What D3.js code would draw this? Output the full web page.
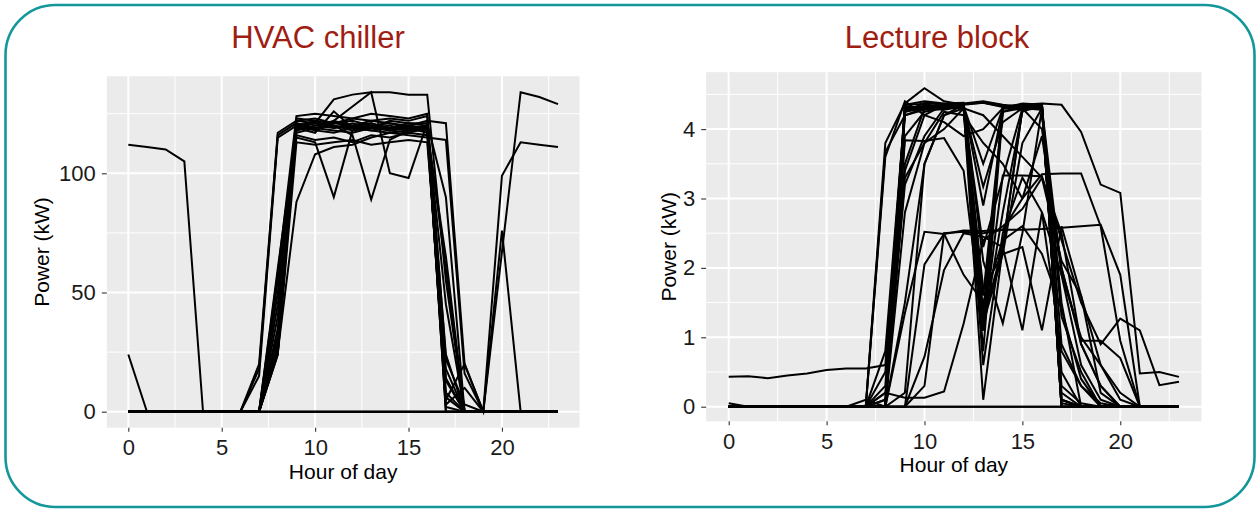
<!DOCTYPE html>
<html lang="en">
<head>
    <meta charset="UTF-8">
    <title>HVAC chiller / Lecture block</title>
    <script src="https://d3js.org/d3.v7.min.js"></script>
    <style>
        body {
            margin: 0;
            background: #fff;
        }
        svg text {
            font-family: "Liberation Sans", Arial, sans-serif;
        }
    </style>
</head>
<body>
    <svg id="chart" width="1258" height="512"></svg>

    <script>
        // hour of day, shared by both panels
        const hours = [0,1,2,3,4,5,6,7,8,9,10,11,12,13,14,15,16,17,18,19,20,21,22,23];
        const xTicks = [0, 5, 10, 15, 20];

        // HVAC chiller, kW, one array per day
        const chillerDays = [
            [112,111,110,105,0,0,0,0,0,0,0,0,0,0,0,0,0,0,0,0,0,0,0,0],
            [24,0,0,0,0,0,0,0,30,118,120,119,121,119,118,120,119,60,0,0,0,0,0,0],
            [0,0,0,0,0,0,0,20,117,122,121,120,119,120,121,119,120,24,0,0,0,0,0,0],
            [0,0,0,0,0,0,0,15,115,120,118,122,120,118,119,120,118,13,0,0,0,0,0,0],
            [0,0,0,0,0,0,0,0,40,120,121,131,133,134,134,133,133,55,0,0,0,0,0,0],
            [0,0,0,0,0,0,0,0,25,88,108,111,112,115,117,118,118,5,20,0,0,0,0,0],
            [0,0,0,0,0,0,0,0,55,115,113,90,118,120,119,118,119,45,0,0,0,0,0,0],
            [0,0,0,0,0,0,0,0,28,117,119,120,116,89,114,118,120,0,0,0,0,0,0,0],
            [0,0,0,0,0,0,0,0,60,118,120,122,128,134,100,98,121,90,0,0,0,0,0,0],
            [0,0,0,0,0,0,0,0,24,122,123,121,120,122,121,120,122,121,20,0,0,0,0,0],
            [0,0,0,0,0,0,0,0,45,119,117,126,119,121,118,117,119,8,0,0,0,0,0,0],
            [0,0,0,0,0,0,0,18,116,121,118,117,119,118,117,116,115,114,16,0,99,113,112,111],
            [0,0,0,0,0,0,0,0,27,121,119,118,117,119,120,118,119,2,0,0,67,134,132,129],
            [0,0,0,0,0,0,0,0,50,123,122,121,123,122,123,122,124,14,0,0,76,0,0,0],
            [0,0,0,0,0,0,0,0,29,120,122,119,120,121,119,121,120,0,0,0,0,0,0,0],
            [0,0,0,0,0,0,0,0,35,116,114,115,113,116,115,117,116,6,0,0,0,0,0,0],
            [0,0,0,0,0,0,0,0,24,113,112,113,114,112,113,114,113,18,0,0,0,0,0,0],
            [0,0,0,0,0,0,0,0,58,124,125,124,123,125,124,123,125,22,3,0,0,0,0,0],
            [0,0,0,0,0,0,0,0,25,119,121,120,118,119,122,121,121,3,10,0,0,0,0,0],
            [0,0,0,0,0,0,0,0,32,121,118,121,122,120,118,119,117,65,0,0,0,0,0,0],
            [0,0,0,0,0,0,0,0,0,0,0,0,0,0,0,0,0,0,0,0,0,0,0,0],
            [0,0,0,0,0,0,0,0,0,0,0,0,0,0,0,0,0,0,0,0,0,0,0,0]
        ];
        const chillerYTicks = [0, 50, 100];
        const chillerYMinor = [25, 75, 125];

        // Lecture block, kW, one array per day
        const lectureDays = [
            [0.43,0.44,0.41,0.45,0.48,0.53,0.55,0.55,0.6,4.25,4.3,4.33,4.3,1.3,4.25,4.3,4.32,0.1,0,0,0,0,0,0],
            [0.05,0,0,0,0,0,0,0,3.8,4.37,4.59,4.4,4.35,4.38,4.33,4.35,4.37,4.35,3.96,3.2,3.08,0.48,0.5,0.43],
            [0,0,0,0,0,0,0,0,3.67,4.2,4.3,4.28,4.33,3.17,4.1,4.3,4.35,0,0,0,0,0,0,0],
            [0,0,0,0,0,0,0,0,0,4.3,4.32,4.35,4.3,0.1,2.3,4.28,4.3,0.2,0,0,0,0,0,0],
            [0,0,0,0,0,0,0,0,0.3,4.35,4.36,4.3,4.33,1.1,4.3,4.32,4.3,0,0,0,0,0,0,0],
            [0,0,0,0,0,0,0,0,0.5,4.33,4.3,4.34,4.36,1.25,2.3,4.3,4.35,0.1,0,0,0,0,0,0],
            [0,0,0,0,0,0,0,0,0.8,4.28,4.3,4.3,4.32,1.35,4.3,4.28,4.3,1.5,0,0,0,0,0,0],
            [0,0,0,0,0,0,0,0,0.2,0.13,0.13,0.22,1.2,2.4,2.6,2.85,3.3,2.5,0.9,0.3,0,0,0,0],
            [0,0,0,0,0,0,0,0,0,1.35,2.52,2.49,2.54,2.53,2.55,2.55,2.56,2.58,2.6,2.62,1.9,0,0,0],
            [0,0,0,0,0,0,0,0,0,0,2.05,2.49,1.9,1.5,2.4,2.6,2.2,1.4,0.4,0,0,0,0,0],
            [0,0,0,0,0,0,0,0,0,0,0.72,1.97,2.5,2.45,2.3,1.1,2.8,1.9,0.6,0.1,0,0,0,0],
            [0,0,0,0,0,0,0,0,0,1.5,3.5,4.2,4.3,4.2,3.9,3.6,3.3,2.1,1.6,0.6,0.2,0,0,0],
            [0,0,0,0,0,0,0,0,0.2,3.2,3.9,4.3,4.36,4.38,4.32,4.3,4.36,0.1,0,0,0,0,0,0],
            [0,0,0,0,0,0,0,0,0,3.84,3.83,3.87,3.4,1.1,3.33,3.33,3.32,2.4,1.5,0.9,1.27,1.1,0.31,0.36],
            [0,0,0,0,0,0,0,0,0,2.8,3.8,4.25,4.2,3.8,3.5,3.0,3.35,3.36,3.36,2.6,0.95,0,0,0],
            [0,0,0,0,0,0,0,0,0,4.3,4.31,4.33,4.35,0.8,4.25,4.33,4.3,0.05,0,0,0,0,0,0],
            [0,0,0,0,0,0,0,0,0.1,4.25,4.38,4.36,4.37,4.4,4.35,4.32,4.33,0,0,0,0,0,0,0],
            [0,0,0,0,0,0,0,0,3.6,4.4,4.2,4.1,3.9,4.0,4.3,4.3,4.0,2.0,0.95,0.95,0.7,0,0,0],
            [0,0,0,0,0,0,0,0,0,3.4,4.2,4.35,4.3,1.7,2.2,2.3,1.1,2.6,1.6,0.2,0,0,0,0],
            [0,0,0,0,0,0,0,0,0,0.2,3.5,4.2,4.35,2.9,4.3,4.35,4.3,1.3,0.5,0,0,0,0,0],
            [0,0,0,0,0,0,0,0,0,4.3,4.33,4.31,4.3,0.6,2.5,3.3,2.8,0.8,0.3,0.05,0,0,0,0],
            [0,0,0,0,0,0,0,0,0.1,4.25,4.34,4.35,4.34,1.1,2.8,4.25,4.36,0,0,0,0,0,0,0],
            [0,0,0,0,0,0,0,0,0,4.35,4.4,4.37,4.38,1.6,4.3,4.37,4.35,0.3,0.05,0,0,0,0,0],
            [0,0,0,0,0,0,0,0,0,3.3,3.8,4.0,4.3,1.2,2.2,3.8,4.3,1.9,1.0,0.6,0.1,0,0,0],
            [0,0,0,0,0,0,0,0,0,0,0.3,2.5,2.52,2.5,2.55,3.0,3.9,2.0,0.9,0.3,0,0,0,0],
            [0,0,0,0,0,0,0,0.1,0,3.5,4.3,4.35,4.36,2.1,1.2,2.5,4.3,0.5,0,0,0,0,0,0],
            [0,0,0,0,0,0,0,0,0,4.2,4.28,4.3,4.33,3.5,4.3,4.36,4.33,0,0,0,0,0,0,0],
            [0,0,0,0,0,0,0,0,0,3.9,4.25,4.3,4.31,2.3,3.3,4.3,4.28,0.9,0.3,0,0,0,0,0],
            [0,0,0,0,0,0,0,0,0,0,0,0,0,0,0,0,0,0,0,0,0,0,0,0],
            [0,0,0,0,0,0,0,0,0,0,0,0,0,0,0,0,0,0,0,0,0,0,0,0]
        ];
        const lectureYTicks = [0, 1, 2, 3, 4];
        const lectureYMinor = [0.5, 1.5, 2.5, 3.5, 4.5];

        const svg = d3.select("#chart");

        // 外框
        svg.append("rect")
            .attr("x", 5.5).attr("y", 5)
            .attr("width", 1249).attr("height", 502)
            .attr("rx", 50).attr("ry", 50)
            .attr("fill", "none")
            .attr("stroke", "#13979a")
            .attr("stroke-width", 2.6);

        function drawPanel(cfg) {
            const g = svg.append("g");

            const x = d3.scaleLinear().domain([0, 23]).range([cfg.x0, cfg.x23]);
            const y = d3.scaleLinear().domain([0, cfg.yRef]).range([cfg.yZero, cfg.yRefPx]);

            const left = x(-1.15), right = x(24.15);
            const top = y(cfg.yMax), bottom = y(cfg.yMin);

            g.append("rect")
                .attr("x", left).attr("y", top)
                .attr("width", right - left).attr("height", bottom - top)
                .attr("fill", "#ebebeb");

            // minor grid
            g.selectAll(".vminor").data([2.5, 7.5, 12.5, 17.5, 22.5]).enter()
                .append("line")
                .attr("x1", d => x(d)).attr("x2", d => x(d))
                .attr("y1", top).attr("y2", bottom)
                .attr("stroke", "#fff").attr("stroke-width", 1);
            g.selectAll(".hminor").data(cfg.yMinor).enter()
                .append("line")
                .attr("x1", left).attr("x2", right)
                .attr("y1", d => y(d)).attr("y2", d => y(d))
                .attr("stroke", "#fff").attr("stroke-width", 1);

            // major grid
            g.selectAll(".vmajor").data(xTicks).enter()
                .append("line")
                .attr("x1", d => x(d)).attr("x2", d => x(d))
                .attr("y1", top).attr("y2", bottom)
                .attr("stroke", "#fff").attr("stroke-width", 2);
            g.selectAll(".hmajor").data(cfg.yTicks).enter()
                .append("line")
                .attr("x1", left).attr("x2", right)
                .attr("y1", d => y(d)).attr("y2", d => y(d))
                .attr("stroke", "#fff").attr("stroke-width", 2);

            // one line per day
            const line = d3.line()
                .x((d, i) => x(hours[i]))
                .y(d => y(d));

            g.append("g")
                .selectAll("path")
                .data(cfg.days)
                .enter()
                .append("path")
                .attr("d", line)
                .attr("fill", "none")
                .attr("stroke", "#000")
                .attr("stroke-width", 2)
                .attr("stroke-linejoin", "miter");

            // axes
            const xAxis = g.append("g")
                .attr("transform", `translate(0,${bottom})`)
                .call(d3.axisBottom(x).tickValues(xTicks).tickFormat(d3.format("d")).tickSize(4).tickPadding(8));
            const yAxis = g.append("g")
                .attr("transform", `translate(${left},0)`)
                .call(d3.axisLeft(y).tickValues(cfg.yTicks).tickFormat(d3.format("d")).tickSize(5).tickPadding(6));

            [xAxis, yAxis].forEach(a => {
                a.select(".domain").remove();
                a.selectAll(".tick line").attr("stroke", "#333").attr("stroke-width", 1.1);
                a.selectAll(".tick text")
                    .attr("fill", "#1a1a1a")
                    .style("font-size", "22px");
            });

            g.append("text")
                .attr("x", (left + right) / 2)
                .attr("y", cfg.xLabelY)
                .attr("text-anchor", "middle")
                .attr("fill", "#000")
                .style("font-size", "21px")
                .text("Hour of day");

            g.append("text")
                .attr("transform", `translate(${cfg.yLabelX},${(top + bottom) / 2}) rotate(-90)`)
                .attr("text-anchor", "middle")
                .attr("fill", "#000")
                .style("font-size", "21px")
                .text("Power (kW)");

            g.append("text")
                .attr("x", cfg.titleX)
                .attr("y", 48)
                .attr("text-anchor", "middle")
                .attr("fill", "#a01d12")
                .style("font-size", "31px")
                .text(cfg.title);
        }

        drawPanel({
            title: "HVAC chiller",
            titleX: 318,
            days: chillerDays,
            x0: 128.3, x23: 558,
            yRef: 100, yZero: 411.7, yRefPx: 173.3,
            yMin: -6.7, yMax: 140.7,
            yTicks: chillerYTicks, yMinor: chillerYMinor,
            xLabelY: 479, yLabelX: 49
        });

        drawPanel({
            title: "Lecture block",
            titleX: 937,
            days: lectureDays,
            x0: 728.7, x23: 1179,
            yRef: 4, yZero: 406.7, yRefPx: 129.1,
            yMin: -0.21, yMax: 4.82,
            yTicks: lectureYTicks, yMinor: lectureYMinor,
            xLabelY: 472, yLabelX: 676
        });
    </script>
</body>
</html>
